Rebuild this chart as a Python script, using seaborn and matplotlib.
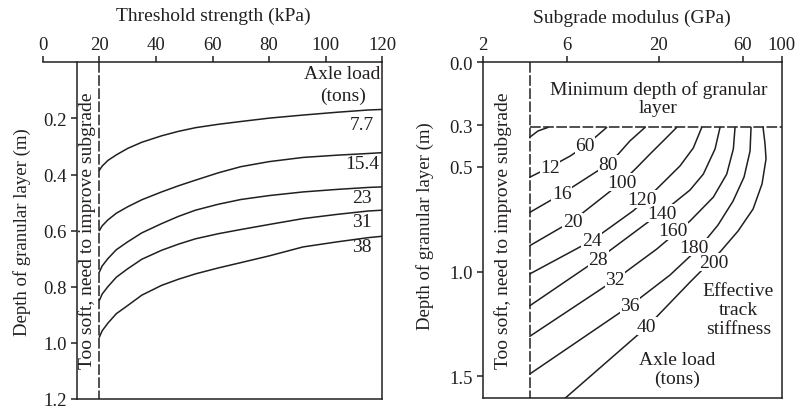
#!/usr/bin/env python3
"""
Design chart: depth of granular layer vs threshold strength / subgrade modulus
"""

import matplotlib
matplotlib.use("Agg")
import matplotlib.pyplot as plt
import matplotlib.ticker as mticker
import seaborn as sns

# ---- left panel: one curve per axle load ----
strength_kpa = [20, 21, 23, 26, 30, 35, 42, 48, 54, 62, 70, 80, 92, 104, 115, 120]
axle_loads = ["7.7", "15.4", "23", "31", "38"]
depth_7_7 = [0.385, 0.370, 0.350, 0.330, 0.307, 0.285, 0.262, 0.246, 0.233,
             0.221, 0.211, 0.199, 0.188, 0.178, 0.170, 0.168]
depth_15_4 = [0.600, 0.583, 0.562, 0.538, 0.515, 0.490, 0.462, 0.440, 0.420,
              0.394, 0.372, 0.354, 0.339, 0.331, 0.325, 0.322]
depth_23 = [0.748, 0.726, 0.700, 0.668, 0.640, 0.608, 0.575, 0.549, 0.527,
            0.506, 0.489, 0.475, 0.462, 0.453, 0.446, 0.444]
depth_31 = [0.849, 0.826, 0.800, 0.766, 0.736, 0.702, 0.670, 0.648, 0.629,
            0.611, 0.596, 0.578, 0.557, 0.542, 0.530, 0.527]
depth_38 = [0.980, 0.957, 0.930, 0.896, 0.867, 0.830, 0.795, 0.773, 0.754,
            0.733, 0.714, 0.690, 0.658, 0.640, 0.625, 0.620]
soft_limit_kpa = 20
left_edge_kpa = 12

# ---- right panel: iso-curves (subgrade modulus in GPa, depth in m) ----
modulus_c0 = [3.7, 4.12, 4.70]
depth_c0 = [0.358, 0.328, 0.311]
modulus_c1 = [3.7, 4.83, 6.27, 7.63, 8.81, 10.13]
depth_c1 = [0.549, 0.500, 0.448, 0.400, 0.355, 0.311]
modulus_c2 = [3.7, 5.62, 10.34, 11.79, 13.74, 16.72]
depth_c2 = [0.717, 0.629, 0.486, 0.438, 0.375, 0.311]
modulus_c3 = [3.7, 6.49, 12.32, 15.0, 17.85, 21.18, 25.3]
depth_c3 = [0.876, 0.757, 0.573, 0.503, 0.438, 0.376, 0.311]
modulus_c4 = [3.7, 8.32, 14.35, 19.49, 26.42, 31.45, 35.1]
depth_c4 = [1.011, 0.852, 0.709, 0.605, 0.495, 0.409, 0.311]
modulus_c5 = [3.7, 9.08, 17.09, 23.19, 30.12, 35.85, 41.78, 44.6]
depth_c5 = [1.163, 0.940, 0.768, 0.687, 0.610, 0.534, 0.414, 0.311]
modulus_c6 = [3.7, 11.29, 19.49, 30.12, 40.87, 48.68, 53.08, 54.27]
depth_c6 = [1.309, 1.039, 0.892, 0.758, 0.644, 0.534, 0.414, 0.311]
modulus_c7 = [3.7, 13.74, 23.19, 34.34, 43.45, 52.87, 61.07, 66.05, 66.9]
depth_c7 = [1.489, 1.163, 1.016, 0.882, 0.777, 0.663, 0.548, 0.424, 0.311]
modulus_c8 = [5.87, 17.09, 30.12, 44.6, 56.45, 68.7, 77.25, 81.4, 80.35, 78.3]
depth_c8 = [1.605, 1.265, 1.050, 0.906, 0.806, 0.701, 0.581, 0.462, 0.390, 0.311]
axle_tons = ["12", "16", "20", "24", "28", "32", "36", "40"]
track_stiffness = ["60", "80", "100", "120", "140", "160", "180", "200"]
soft_limit_gpa = 3.7
min_depth_m = 0.311

sns.set_theme(style="ticks")
plt.rcParams["font.family"] = ["Liberation Serif", "DejaVu Serif"]

INK = "#231f20"
FS = 14        # annotations and titles
FS_TICK = 13.5
FS_YLAB = 13.5
DASH = (0, (7, 1.6))

fig = plt.figure(figsize=(8, 4.1), dpi=100)
ax1 = fig.add_axes([0.0534, 0.0244, 0.4245, 0.8212])
ax2 = fig.add_axes([0.6034, 0.0261, 0.3738, 0.8195])

# ---------------- left panel ----------------
curves_left = [depth_7_7, depth_15_4, depth_23, depth_31, depth_38]
for depth in curves_left:
    sns.lineplot(x=strength_kpa, y=depth, ax=ax1, color=INK, linewidth=1.1,
                 sort=False, estimator=None)
ax1.plot([soft_limit_kpa, soft_limit_kpa], [0, 1.2], color=INK, lw=1.1, ls=DASH)

ax1.set_xlim(0, 120)
ax1.set_ylim(1.2, 0)
ax1.xaxis.tick_top()
ax1.set_xticks([0, 20, 40, 60, 80, 100, 120])
ax1.set_yticks([0.2, 0.4, 0.6, 0.8, 1.0, 1.2])
ax1.yaxis.set_major_formatter(mticker.FormatStrFormatter("%.1f"))
ax1.spines["left"].set_position(("data", left_edge_kpa))
ax1.spines["bottom"].set_bounds(left_edge_kpa, 120)
for sp in ax1.spines.values():
    sp.set_visible(True)
    sp.set_linewidth(1.1)
    sp.set_color(INK)

label_y_left = [0.222, 0.362, 0.483, 0.569, 0.658]
for lab, yy in zip(axle_loads, label_y_left):
    ax1.text(112.8, yy, lab, ha="center", va="center", fontsize=FS, color=INK)
ax1.text(119.3, 0.039, "Axle load", ha="right", va="center", fontsize=FS, color=INK)
ax1.text(106, 0.119, "(tons)", ha="center", va="center", fontsize=FS, color=INK)
ax1.text(15.8, 0.597, "Too soft, need to improve subgrade", rotation=90,
         ha="center", va="center", fontsize=FS, color=INK)

# ---------------- right panel ----------------
ax2.set_xscale("log")
curves_right = [(modulus_c0, depth_c0), (modulus_c1, depth_c1), (modulus_c2, depth_c2),
                (modulus_c3, depth_c3), (modulus_c4, depth_c4), (modulus_c5, depth_c5),
                (modulus_c6, depth_c6), (modulus_c7, depth_c7), (modulus_c8, depth_c8)]
for mod, depth in curves_right:
    sns.lineplot(x=mod, y=depth, ax=ax2, color=INK, linewidth=1.1,
                 sort=False, estimator=None)
ax2.plot([soft_limit_gpa, soft_limit_gpa], [0, 1.61], color=INK, lw=1.1, ls=DASH)
ax2.plot([soft_limit_gpa, 100], [min_depth_m, min_depth_m], color=INK, lw=1.1, ls=DASH)

ax2.set_xlim(2, 100)
ax2.set_ylim(1.605, 0)
ax2.xaxis.tick_top()
ax2.xaxis.set_minor_locator(mticker.NullLocator())
ax2.set_xticks([2, 6, 20, 60, 100])
ax2.set_xticklabels(["2", "6", "20", "60", "100"])
ax2.set_yticks([0.0, 0.3, 0.5, 1.0, 1.5])
ax2.yaxis.set_major_formatter(mticker.FormatStrFormatter("%.1f"))
for sp in ax2.spines.values():
    sp.set_visible(True)
    sp.set_linewidth(1.1)
    sp.set_color(INK)

box = dict(facecolor="white", edgecolor="none", pad=0.3)
tons_pos = [(4.83, 0.502), (5.62, 0.629), (6.49, 0.762), (8.32, 0.852),
            (9.08, 0.940), (11.29, 1.039), (13.74, 1.163), (17.09, 1.261)]
stiff_pos = [(7.63, 0.398), (10.34, 0.486), (12.32, 0.573), (16.01, 0.653),
             (20.8, 0.721), (24.21, 0.805), (31.5, 0.884), (41.0, 0.955)]
for lab, (xx, yy) in zip(axle_tons, tons_pos):
    ax2.text(xx, yy, lab, ha="center", va="center", fontsize=FS, color=INK, bbox=box)
for lab, (xx, yy) in zip(track_stiffness, stiff_pos):
    ax2.text(xx, yy, lab, ha="center", va="center", fontsize=FS, color=INK, bbox=box)

ax2.text(19.9, 0.17, "Minimum depth of granular\nlayer", ha="center", va="center",
         fontsize=FS, color=INK, linespacing=1.1)
ax2.text(56.7, 1.18, "Effective\ntrack\nstiffness", ha="center", va="center",
         fontsize=FS, color=INK, linespacing=1.15)
ax2.text(25.3, 1.465, "Axle load\n(tons)", ha="center", va="center",
         fontsize=FS, color=INK, linespacing=1.15)
ax2.text(2.6, 0.80, "Too soft, need to improve subgrade", rotation=90,
         ha="center", va="center", fontsize=FS, color=INK)

for ax in (ax1, ax2):
    ax.set_xlabel("")
    ax.set_ylabel("")
    ax.tick_params(axis="both", direction="out", length=4, width=1.1, pad=3,
                   labelsize=FS_TICK, colors=INK)
    ax.tick_params(axis="x", top=True, bottom=False, labeltop=True, labelbottom=False)

fig.text(213 / 800, 1 - 16.7 / 410, "Threshold strength (kPa)", ha="center",
         va="center", fontsize=FS, color=INK)
fig.text(631.7 / 800, 1 - 18.3 / 410, "Subgrade modulus (GPa)", ha="center",
         va="center", fontsize=FS, color=INK)
fig.text(22 / 800, 1 - 232 / 410, "Depth of granular layer (m)", rotation=90,
         ha="center", va="center", fontsize=FS_YLAB, color=INK)
fig.text(425 / 800, 1 - 226 / 410, "Depth of granular layer (m)", rotation=90,
         ha="center", va="center", fontsize=FS_YLAB, color=INK)

fig.savefig("out.png", dpi=100, facecolor="white")
